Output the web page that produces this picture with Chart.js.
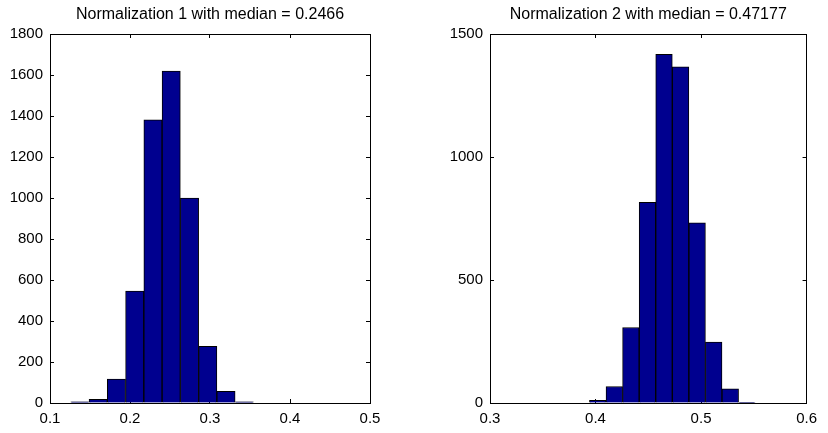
<!DOCTYPE html>
<html>
<head>
<meta charset="utf-8">
<script src="https://cdn.jsdelivr.net/npm/chart.js@4.4.0/dist/chart.umd.min.js"></script>
<style>
  html, body { margin: 0; padding: 0; background: #fff; }
  #wrap { position: relative; width: 828px; height: 433px; }
  canvas { position: absolute; top: 0; }
  #c1 { left: 0; }
  #c2 { left: 414px; }
</style>
</head>
<body>
<div id="wrap">
  <canvas id="c1" width="414" height="433"></canvas>
  <canvas id="c2" width="414" height="433"></canvas>
</div>
<script>
// histogram 1: bin centres and counts
const binCenters1 = [0.1374, 0.1602, 0.1830, 0.2059, 0.2287, 0.2515, 0.2744, 0.2972, 0.3200, 0.3429];
const counts1 = [6, 18, 117, 546, 1381, 1619, 1000, 276, 57, 6];
const xTicks1 = [0.1, 0.2, 0.3, 0.4, 0.5];
const yTicks1 = [0, 200, 400, 600, 800, 1000, 1200, 1400, 1600, 1800];

// histogram 2
const binCenters2 = [0.4021, 0.4178, 0.4335, 0.4492, 0.4649, 0.4806, 0.4963, 0.5120, 0.5277, 0.5434];
const counts2 = [11, 67, 307, 816, 1417, 1367, 732, 248, 58, 3];
const xTicks2 = [0.3, 0.4, 0.5, 0.6];
const yTicks2 = [0, 500, 1000, 1500];

const titles = ["Normalization 1 with median = 0.2466", "Normalization 2 with median = 0.47177"];

const FONT = "'Liberation Sans', Arial, sans-serif";

// one side of the matlab style box: black border, short ticks pointing inward
function boxAxis(position, ticks, size, showLabels, format) {
  const horizontal = position === "top" || position === "bottom";
  return {
    type: "linear",
    position: position,
    axis: horizontal ? "x" : "y",
    offset: false,
    z: 1,
    min: ticks[0],
    max: ticks[ticks.length - 1],
    afterBuildTicks: (s) => { s.ticks = ticks.map((v) => ({ value: v })); },
    afterFit: (s) => {
      if (horizontal) s.height = size;
      else s.width = size;
    },
    grid: {
      display: true,
      offset: false,
      drawOnChartArea: false,
      drawTicks: true,
      tickLength: -4,
      color: "#000",
      lineWidth: 1,
    },
    border: { display: true, color: "#000", width: 1 },
    ticks: {
      display: showLabels,
      color: "#000",
      padding: 11,
      maxRotation: 0,
      autoSkip: false,
      font: { family: FONT, size: 15 },
      callback: format,
    },
  };
}

function makeHist(id, centers, counts, xTicks, yTicks, title, yWidth, padRight) {
  const fx = (v) => v.toFixed(1);
  const fy = (v) => String(v);
  return new Chart(document.getElementById(id), {
    type: "bar",
    data: {
      datasets: [
        {
          data: centers.map((c, i) => ({ x: c, y: counts[i] })),
          xAxisID: "x",
          yAxisID: "y",
          backgroundColor: "#00008F",
          borderColor: "#000",
          borderWidth: 1,
          barPercentage: 1,
          categoryPercentage: 1,
        },
      ],
    },
    options: {
      responsive: false,
      animation: false,
      layout: { padding: { left: 0, right: padRight, top: 0, bottom: 0 } },
      plugins: {
        legend: { display: false },
        tooltip: { enabled: false },
        title: {
          display: true,
          fullSize: false,
          align: "center",
          text: title,
          color: "#000",
          font: { family: FONT, size: 16, weight: "normal", lineHeight: 1 },
          padding: { top: 7, bottom: 11 },
        },
      },
      scales: {
        x: boxAxis("bottom", xTicks, 30, true, fx),
        x2: boxAxis("top", xTicks, 0, false, fx),
        y: boxAxis("left", yTicks, yWidth, true, fy),
        y2: boxAxis("right", yTicks, 0, false, fy),
      },
    },
  });
}

makeHist("c1", binCenters1, counts1, xTicks1, yTicks1, titles[0], 50, 44);
makeHist("c2", binCenters2, counts2, xTicks2, yTicks2, titles[1], 76, 17);
</script>
</body>
</html>
